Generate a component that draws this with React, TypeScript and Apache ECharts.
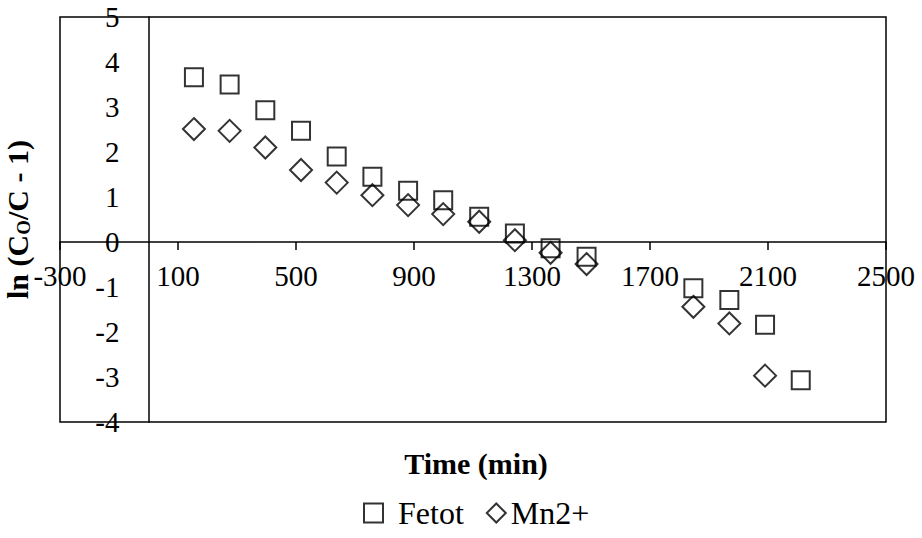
import React, { useEffect, useRef } from "react";
import * as echarts from "echarts";

const timesFe = [154, 275, 396, 517, 638, 759, 880, 999, 1121, 1242, 1363, 1485, 1847, 1969, 2090, 2211];
const valuesFe = [3.66, 3.5, 2.93, 2.47, 1.9, 1.45, 1.14, 0.93, 0.56, 0.19, -0.14, -0.33, -1.03, -1.29, -1.84, -3.07];
const timesMn = [154, 275, 396, 517, 638, 759, 880, 999, 1121, 1242, 1363, 1485, 1847, 1969, 2090];
const valuesMn = [2.51, 2.47, 2.1, 1.6, 1.32, 1.04, 0.82, 0.62, 0.45, 0.04, -0.24, -0.49, -1.44, -1.81, -2.97];
const xTicks = [-300, 100, 500, 900, 1300, 1700, 2100, 2500];
const seriesNames = ["Fetot", "Mn2+"];
const xTitle = "Time (min)";

const FONT = "'Liberation Serif', 'Times New Roman', serif";

const X_MIN = -300;
const X_MAX = 2500;
const Y_MIN = -4;
const Y_MAX = 5;
const GRID = { left: 60, top: 17, right: 36, bottom: 116 };
const W = 922;
const H = 538;

export default function App() {
  const ref = useRef<HTMLDivElement>(null);
  useEffect(() => {
    if (!ref.current) return;
    const chart = echarts.init(ref.current, null, { renderer: "svg" });
    const gw = W - GRID.left - GRID.right;
    const gh = H - GRID.top - GRID.bottom;
    // move axes (line, ticks, labels) onto the zero lines
    const xOffset = -(gh * (0 - Y_MIN)) / (Y_MAX - Y_MIN);
    const yOffset = -(gw * (0 - X_MIN)) / (X_MAX - X_MIN);
    const markerStyle = { color: "rgba(0,0,0,0)", borderColor: "#000", borderWidth: 2 };
    chart.setOption({
      animation: false,
      backgroundColor: "#fff",
      textStyle: { fontFamily: FONT },
      grid: {
        ...GRID,
        show: true,
        borderColor: "#000",
        borderWidth: 1.5,
        containLabel: false,
        outerBoundsMode: "none",
      },
      xAxis: {
        type: "value",
        min: X_MIN,
        max: X_MAX,
        offset: xOffset,
        splitLine: { show: false },
        axisLine: { show: true, onZero: false, lineStyle: { color: "#000", width: 1.5 } },
        axisTick: { show: true, length: 8, lineStyle: { color: "#000", width: 1.5 }, customValues: xTicks },
        axisLabel: {
          customValues: xTicks,
          color: "#000",
          fontSize: 29,
          fontFamily: FONT,
          margin: 19,
          showMinLabel: true,
          showMaxLabel: true,
          formatter: (v: number) => String(v),
        },
      },
      yAxis: {
        type: "value",
        min: Y_MIN,
        max: Y_MAX,
        interval: 1,
        offset: yOffset,
        name: "{b|ln (C}{s|O}{b|/C - 1)}",
        nameLocation: "middle",
        nameGap: 116,
        nameMoveOverlap: false,
        nameTextStyle: {
          color: "#000",
          rich: {
            b: { fontSize: 30, fontWeight: "bold", fontFamily: FONT, color: "#000" },
            s: { fontSize: 19, fontWeight: "bold", fontFamily: FONT, color: "#000", padding: [12, 0, 0, 0] },
          },
        },
        splitLine: { show: false },
        axisLine: { show: true, onZero: false, lineStyle: { color: "#000", width: 1.5 } },
        axisTick: { show: false },
        axisLabel: { color: "#000", fontSize: 29, fontFamily: FONT, margin: 29 },
      },
      legend: {
        data: [
          { name: seriesNames[0], textStyle: { padding: [0, 0, 0, 10] } },
          { name: seriesNames[1] },
        ],
        left: 358,
        top: 492,
        itemGap: 22,
        itemWidth: 19,
        itemHeight: 19,
        textStyle: { fontSize: 32, fontFamily: FONT, color: "#000" },
      },
      graphic: [
        {
          type: "text",
          x: 476,
          y: 463,
          style: {
            text: xTitle,
            fontSize: 30,
            fontWeight: "bold",
            fontFamily: FONT,
            fill: "#000",
            align: "center",
            verticalAlign: "middle",
          },
        },
      ],
      series: [
        {
          name: seriesNames[0],
          type: "scatter",
          symbol: "rect",
          symbolSize: 18,
          itemStyle: markerStyle,
          data: timesFe.map((t, i) => [t, valuesFe[i]]),
        },
        {
          name: seriesNames[1],
          type: "scatter",
          symbol: "diamond",
          symbolSize: 22,
          itemStyle: markerStyle,
          data: timesMn.map((t, i) => [t, valuesMn[i]]),
        },
      ],
    });
    return () => chart.dispose();
  }, []);
  return (
    <div
      ref={ref}
      style={{ position: "fixed", left: 0, top: 0, width: W, height: H, background: "#fff" }}
    />
  );
}
